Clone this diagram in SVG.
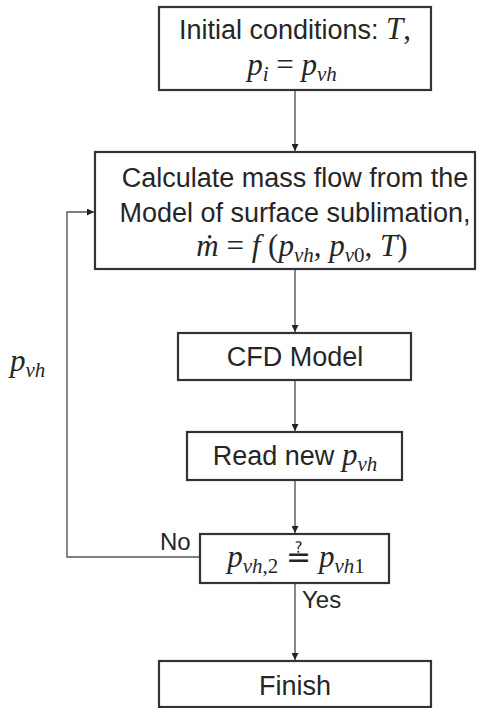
<svg xmlns="http://www.w3.org/2000/svg" width="486" height="708" viewBox="0 0 486 708">
  <style>
    .box { fill: #ffffff; stroke: #333333; stroke-width: 2.2; }
    .conn { fill: none; stroke: #555555; stroke-width: 1.4; }
    .t { font-family: "Liberation Sans", Arial, sans-serif; font-size: 27px; fill: #262626; }
    .m { font-family: "Liberation Serif", "Times New Roman", serif; font-size: 31px; fill: #262626; }
    .i { font-style: italic; }
    .s { font-size: 21px; }
    .q { font-family: "DejaVu Serif", "DejaVu Sans", serif; font-size: 30px; }
    .lbl { font-family: "Liberation Sans", Arial, sans-serif; font-size: 24px; fill: #262626; }
  </style>
  <defs>
    <marker id="arr" viewBox="0 0 10 10" refX="10" refY="5" markerWidth="7" markerHeight="7" markerUnits="userSpaceOnUse" orient="auto">
      <path d="M0,0 L10,5 L0,10 z" fill="#222222"/>
    </marker>
  </defs>

  <rect width="486" height="708" fill="#ffffff"/>

  <g id="connectors">
    <line class="conn" x1="295" y1="90" x2="295" y2="151" marker-end="url(#arr)"/>
    <line class="conn" x1="295" y1="269" x2="295" y2="332" marker-end="url(#arr)"/>
    <line class="conn" x1="295" y1="380" x2="295" y2="431" marker-end="url(#arr)"/>
    <line class="conn" x1="295" y1="480" x2="295" y2="533" marker-end="url(#arr)"/>
    <line class="conn" x1="295" y1="583" x2="295" y2="660" marker-end="url(#arr)"/>
    <polyline class="conn" points="200,557 67,557 67,212 94,212" marker-end="url(#arr)"/>
    <text class="lbl" x="160" y="550">No</text>
    <text class="lbl" x="302" y="608">Yes</text>
    <text class="m" x="10" y="371"><tspan class="i">p</tspan><tspan class="s i" dy="6">vh</tspan></text>
  </g>

  <g id="node-initial">
    <rect class="box" x="159" y="7" width="272" height="83"/>
    <text class="t" x="295" y="39" text-anchor="middle">Initial conditions: <tspan class="m i">T</tspan><tspan class="m">,</tspan></text>
    <text class="m" x="292" y="75" text-anchor="middle"><tspan class="i">p</tspan><tspan class="s i" dy="6">i</tspan><tspan dy="-6"> = </tspan><tspan class="i">p</tspan><tspan class="s i" dy="6">vh</tspan></text>
  </g>

  <g id="node-massflow">
    <rect class="box" x="95" y="152" width="380" height="117"/>
    <text class="t" x="295" y="187" text-anchor="middle">Calculate mass flow from the</text>
    <text class="t" x="295" y="222" text-anchor="middle">Model of surface sublimation,</text>
    <text class="m" x="302" y="256" text-anchor="middle"><tspan class="i">ṁ</tspan><tspan> = </tspan><tspan class="i">f</tspan><tspan> (</tspan><tspan class="i">p</tspan><tspan class="s i" dy="6">vh</tspan><tspan dy="-6">, </tspan><tspan class="i">p</tspan><tspan class="s" dy="6"><tspan class="i">v</tspan>0</tspan><tspan dy="-6">, </tspan><tspan class="i">T</tspan><tspan>)</tspan></text>
  </g>

  <g id="node-cfd">
    <rect class="box" x="178" y="333" width="233" height="47"/>
    <text class="t" x="295" y="366" text-anchor="middle">CFD Model</text>
  </g>

  <g id="node-read">
    <rect class="box" x="187" y="432" width="215" height="48"/>
    <text class="t" x="295" y="465" text-anchor="middle">Read new <tspan class="m i">p</tspan><tspan class="m s i" dy="6">vh</tspan></text>
  </g>

  <g id="node-decision">
    <rect class="box" x="200" y="534" width="189" height="49"/>
    <text class="m" x="296" y="567" text-anchor="middle"><tspan class="i">p</tspan><tspan class="s" dy="6"><tspan class="i">vh</tspan>,2</tspan><tspan dy="-6"> </tspan><tspan class="q">≟</tspan><tspan> </tspan><tspan class="i">p</tspan><tspan class="s" dy="6"><tspan class="i">vh</tspan>1</tspan></text>
  </g>

  <g id="node-finish">
    <rect class="box" x="159" y="661" width="272" height="46"/>
    <text class="t" x="295" y="695" text-anchor="middle">Finish</text>
  </g>
</svg>
